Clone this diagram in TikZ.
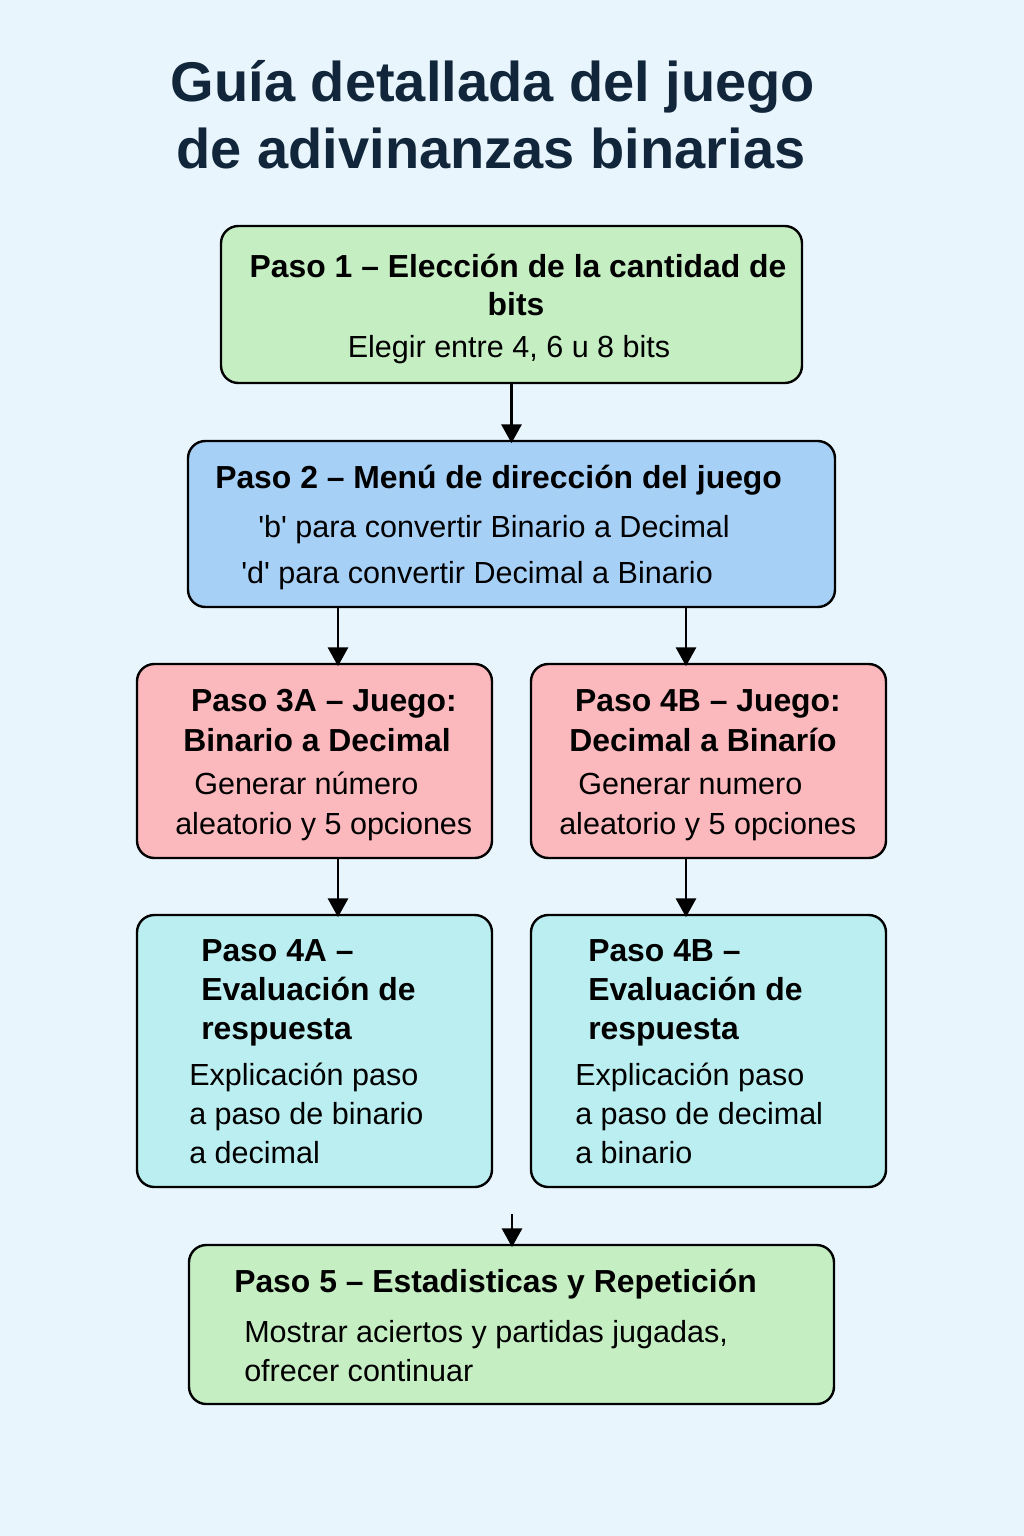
\documentclass[tikz,border=0pt]{standalone}
\usepackage{fontspec}
\setmainfont{Liberation Sans}
\newfontfamily\titlefont{Liberation Sans}
\usetikzlibrary{arrows.meta, positioning, fit}
\definecolor{g3}{HTML}{C5EEC3}
\definecolor{b3}{HTML}{A7D0F7}
\definecolor{r3}{HTML}{FBB9BE}
\definecolor{c3}{HTML}{BAEEF0}
\definecolor{bg}{HTML}{E9F5FD}
\definecolor{tt}{HTML}{11263A}
\tikzset{
    paso/.style={draw=black, line width=1.8pt, rounded corners=13pt, inner sep=0pt},
    ttl/.style={anchor=base, inner sep=0pt, font=\fontsize{23.9}{28}\selectfont\bfseries},
    ttlw/.style={ttl, anchor=base west},
    txt/.style={anchor=base west, inner sep=0pt, font=\fontsize{22.9}{28}\selectfont},
    txtc/.style={txt, anchor=base},
    flecha/.style={line width=1.9pt, -{Triangle[width=15pt,length=14pt]}}
}
\begin{document}
\begin{tikzpicture}[x=0.75pt, y=-0.75pt]
			% Fondo
			\fill[bg] (0,0) rectangle (1024,1536);

			% Titulo
			\node[anchor=base, inner sep=0pt, text=tt, font=\titlefont\fontsize{42}{50}\selectfont\bfseries] (tit1) at (493,101) {Guía detallada del juego};
			\node[anchor=base, inner sep=0pt, text=tt, font=\titlefont\fontsize{42}{50}\selectfont\bfseries] (tit2) at (491,168) {de adivinanzas binarias};

			% Paso 1 (bits)
			\node[paso, fill=g3, fit={(221,226) (802,383)}] (p1) {};
			\node[ttl] (t1a) at (518,277) {Paso 1 – Elección de la cantidad de};
			\node[ttl] (t1b) at (516,315) {bits};
			\node[txtc] (t1c) at (509,357) {Elegir entre 4, 6 u 8 bits};

			% Paso 2 (menu)
			\node[paso, fill=b3, fit={(188,441) (835,607)}] (p2) {};
			\node[ttlw] (t2a) at (215,488) {Paso 2 – Menú de dirección del juego};
			\node[txt] (t2b) at (258,537) {\textquotesingle b\textquotesingle{} para convertir Binario a Decimal};
			\node[txt] (t2c) at (241,583) {\textquotesingle d\textquotesingle{} para convertir Decimal a Binario};

			% Paso 3A / 4B (juego)
			\node[paso, fill=r3, fit={(137,664) (492,858)}] (p3a) {};
			\node[ttl] (t3a) at (324,711) {Paso 3A – Juego:};
			\node[ttl] (t3b) at (317,751) {Binario a Decimal};
			\node[txt] (t3c) at (194,794) {Generar número};
			\node[txt] (t3d) at (175,834) {aleatorio y 5 opciones};

			\node[paso, fill=r3, fit={(531,664) (886,858)}] (p3b) {};
			\node[ttl] (t3e) at (708,711) {Paso 4B – Juego:};
			\node[ttl] (t3f) at (703,751) {Decimal a Binarío};
			\node[txt] (t3g) at (578,794) {Generar numero};
			\node[txt] (t3h) at (559,834) {aleatorio y 5 opciones};

			% Paso 4A / 4B (evaluacion)
			\node[paso, fill=c3, fit={(137,915) (492,1187)}] (p4a) {};
			\node[ttlw] (t4a) at (201,961) {Paso 4A –};
			\node[ttlw] (t4b) at (201,1000) {Evaluación de};
			\node[ttlw] (t4c) at (201,1039) {respuesta};
			\node[txt] (t4d) at (189,1085) {Explicación paso};
			\node[txt] (t4e) at (189,1124) {a paso de binario};
			\node[txt] (t4f) at (189,1163) {a decimal};

			\node[paso, fill=c3, fit={(531,915) (886,1187)}] (p4b) {};
			\node[ttlw] (t4g) at (588,961) {Paso 4B –};
			\node[ttlw] (t4h) at (588,1000) {Evaluación de};
			\node[ttlw] (t4i) at (588,1039) {respuesta};
			\node[txt] (t4j) at (575,1085) {Explicación paso};
			\node[txt] (t4k) at (575,1124) {a paso de decimal};
			\node[txt] (t4l) at (575,1163) {a binario};

			% Paso 5 (estadisticas)
			\node[paso, fill=g3, fit={(189,1245) (834,1404)}] (p5) {};
			\node[ttlw] (t5a) at (234,1292) {Paso 5 – Estadisticas y Repetición};
			\node[txt] (t5b) at (244,1342) {Mostrar aciertos y partidas jugadas,};
			\node[txt] (t5c) at (244,1381) {ofrecer continuar};

			% Flechas
			\coordinate (ca) at (338,0);
			\coordinate (cb) at (686,0);
			\coordinate (c5) at (512,1214);
			\draw[flecha] (p1.south) -- ([yshift=-2.5pt]p2.north);
			\draw[flecha] (p2.south -| ca) -- ([yshift=-2.5pt]p3a.north -| ca);
			\draw[flecha] (p2.south -| cb) -- ([yshift=-2.5pt]p3b.north -| cb);
			\draw[flecha] (p3a.south -| ca) -- ([yshift=-2.5pt]p4a.north -| ca);
			\draw[flecha] (p3b.south -| cb) -- ([yshift=-2.5pt]p4b.north -| cb);
			\draw[flecha] (c5) -- ([yshift=-2.5pt]p5.north -| c5);
\end{tikzpicture}
\end{document}
